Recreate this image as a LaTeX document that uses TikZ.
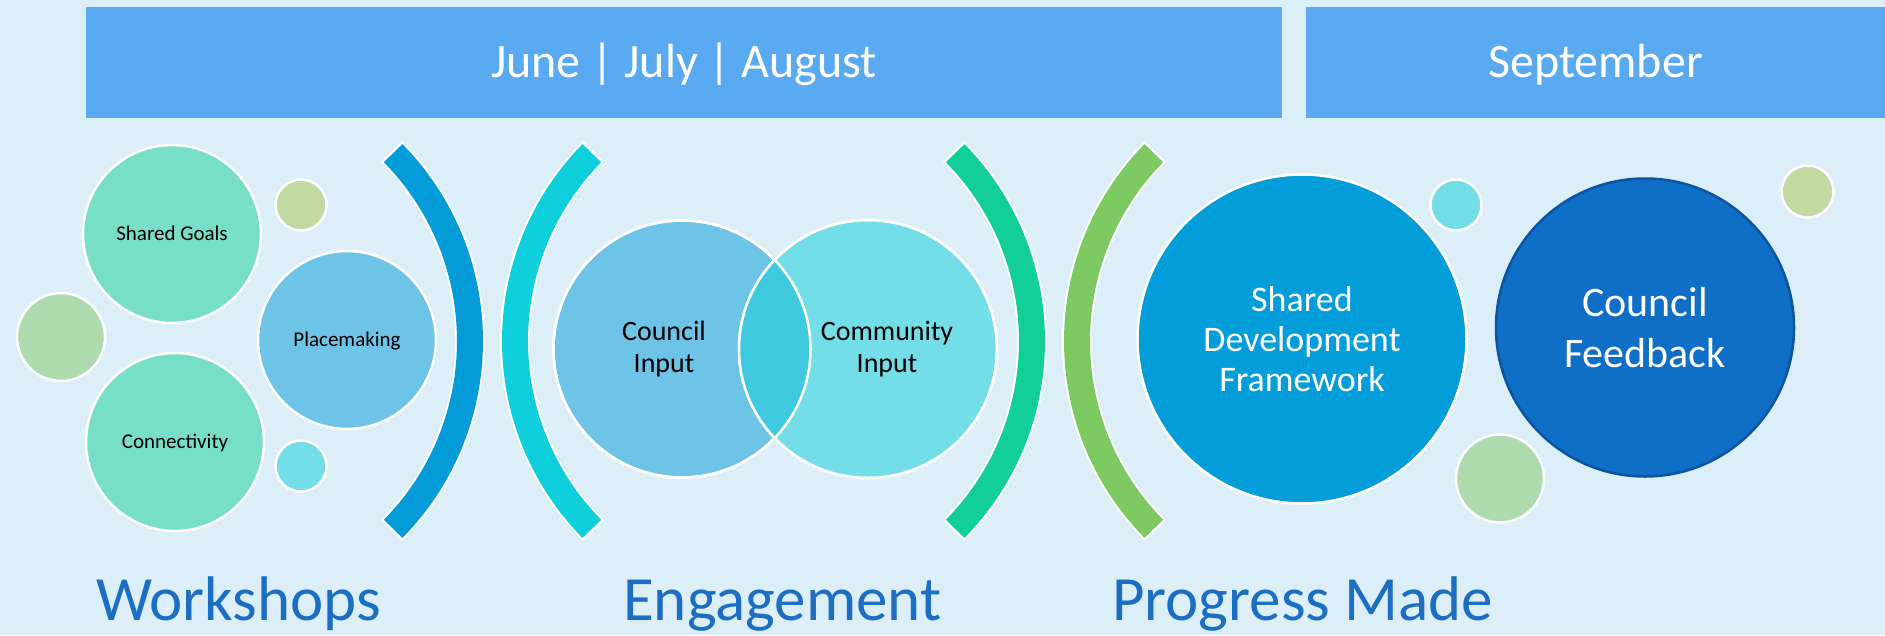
\documentclass[tikz,border=0pt]{standalone}
\usepackage{fontspec}
\setmainfont{Carlito}

\definecolor{bgblue}{HTML}{DCEEF8}
\definecolor{headblue}{HTML}{5AAAF2}
\definecolor{stageblue}{HTML}{1B6EC4}
\definecolor{mint}{HTML}{77DEC8}
\definecolor{sky}{HTML}{6EC4E6}
\definecolor{aqua}{HTML}{73DEE7}
\definecolor{overlapblue}{HTML}{3FC9DF}
\definecolor{olive}{HTML}{C2D9A2}
\definecolor{sage}{HTML}{ADDBAE}
\definecolor{ocean}{HTML}{039DD9}
\definecolor{royal}{HTML}{0F6EC5}
\definecolor{royaledge}{HTML}{0B55A0}
\definecolor{bandblue}{HTML}{039CD8}
\definecolor{bandcyan}{HTML}{0ECFDB}
\definecolor{bandteal}{HTML}{12CF9A}
\definecolor{bandgreen}{HTML}{7ECA62}

\begin{document}
\begin{tikzpicture}[x=1pt,y=-1pt]
    \tikzstyle{every node}=[font=\fontsize{21}{25}\selectfont]
    \tikzstyle{bubble}=[circle, draw=white, line width=2.5pt, inner sep=0pt, align=center]
    \tikzstyle{oneline}=[text height=13.3pt, text depth=0pt]
    \tikzstyle{band}=[line width=26pt, line cap=butt]
    \tikzstyle{halo}=[line width=30pt, line cap=butt, white]
    \tikzstyle{monthbox}=[fill=headblue, text=white, inner sep=0pt, minimum height=111pt,
        text height=30.3pt, text depth=0pt, font=\fontsize{48}{56}\selectfont]
    \tikzstyle{venntext}=[align=center, inner sep=0pt, font=\fontsize{28}{32}\selectfont]
    \tikzstyle{stage}=[text=stageblue, anchor=base west, inner sep=0pt, font=\fontsize{63}{70}\selectfont]

    % background
    \fill[bgblue] (0,0) rectangle (1885,635);
    \useasboundingbox (0,0) rectangle (1885,635);

    % Month headers
    \node[monthbox, minimum width=1195.5pt] (summer) at (684,62.5) {June | July | August};
    \node[monthbox, minimum width=579pt] (september) at (1595.5,62.5) {September};

    % Brackets
    \draw[halo] (202,341) ++(-45:268) arc[start angle=-45, end angle=45, radius=268];
    \draw[band, bandblue] (202,341) ++(-44.5:268) arc[start angle=-44.5, end angle=44.5, radius=268];
    \draw[halo] (783,341) ++(135:268) arc[start angle=135, end angle=225, radius=268];
    \draw[band, bandcyan] (783,341) ++(135.5:268) arc[start angle=135.5, end angle=224.5, radius=268];
    \draw[halo] (764,341) ++(-45:268) arc[start angle=-45, end angle=45, radius=268];
    \draw[band, bandteal] (764,341) ++(-44.5:268) arc[start angle=-44.5, end angle=44.5, radius=268];
    \draw[halo] (1345,341) ++(135:268) arc[start angle=135, end angle=225, radius=268];
    \draw[band, bandgreen] (1345,341) ++(135.5:268) arc[start angle=135.5, end angle=224.5, radius=268];

    % Workshops group
    \node[bubble, oneline, fill=mint, minimum size=178pt] (goals) at (172,234) {Shared Goals};
    \node[bubble, oneline, fill=mint, minimum size=178pt] (connect) at (175,442) {Connectivity};
    \node[bubble, oneline, fill=sky, minimum size=178pt] (place) at (347,340) {Placemaking};
    \node[bubble, fill=sage, minimum size=88pt] (dotA) at (61,337) {};
    \node[bubble, fill=olive, minimum size=51pt] (dotB) at (301,205) {};
    \node[bubble, fill=aqua, minimum size=51pt] (dotC) at (301,466) {};

    % Engagement group
    \node[bubble, fill=sky, minimum size=257pt] (council) at (682,349) {};
    \node[bubble, fill=aqua, minimum size=258pt] (community) at (868,349) {};
    \begin{scope}
        \clip (council.center) circle[radius=128.5];
        \fill[overlapblue] (community.center) circle[radius=129];
    \end{scope}
    \draw[white, line width=2.5pt] (council.center) circle[radius=128.5];
    \draw[white, line width=2.5pt] (community.center) circle[radius=129];
    \node[venntext] (councilin) at (664,349) {Council\\Input};
    \node[venntext] (communityin) at (887,349) {Community\\Input};

    % Progress group
    \node[bubble, fill=ocean, text=white, minimum size=329pt, font=\fontsize{36}{40}\selectfont] (framework) at (1302,339) {Shared\\Development\\Framework};
    \node[bubble, draw=royaledge, fill=royal, text=white, minimum size=298pt, font=\fontsize{42}{51}\selectfont] (feedback) at (1645,327.5) {Council\\Feedback};
    \node[bubble, fill=aqua, minimum size=51pt] (dotD) at (1456,205) {};
    \node[bubble, fill=sage, minimum size=88pt] (dotE) at (1500,478.5) {};
    \node[bubble, fill=olive, minimum size=52pt] (dotF) at (1807.5,191.5) {};

    % Stage labels
    \node[stage] (workshops) at (96,620) {Workshops};
    \node[stage] (engagement) at (623,620) {Engagement};
    \node[stage] (progress) at (1112,620) {Progress Made};

\end{tikzpicture}
\end{document}
